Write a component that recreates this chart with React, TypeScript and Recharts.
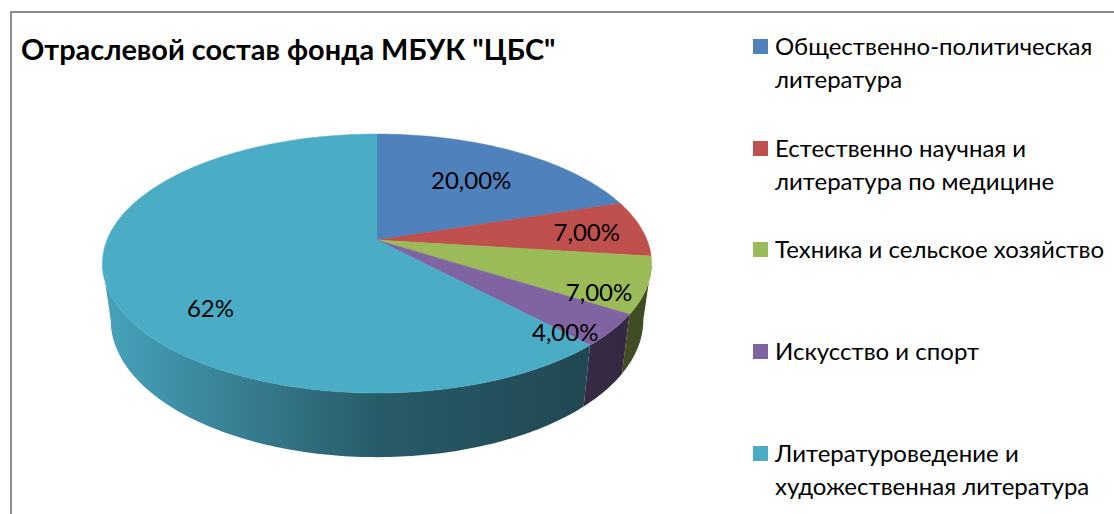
import { Legend, Pie, PieChart } from "recharts"

const categories = [
  "Общественно-политическая\nлитература",
  "Естественно научная и\nлитература по медицине",
  "Техника и сельское хозяйство",
  "Искусство и спорт",
  "Литературоведение и\nхудожественная литература",
]
const shares = [20, 7, 7, 4, 62]
const shareLabels = ["20,00%", "7,00%", "7,00%", "4,00%", "62%"]
const colors = ["#4f81bd", "#c0504d", "#9bbb59", "#8064a2", "#4bacc6"]

const data = categories.map((name, i) => ({ name, value: shares[i], fill: colors[i] }))

const FONT = "Lato, 'Open Sans', sans-serif"

// fake 3D: perspective of the pie disc
const PERSPECTIVE = 0.1815
const TILT = 125.2 / 270
const WALL_DROP = 55
const WALL_WIDTH = 0.97
const WALL_TILT = 1.06

const labelDx = [0, 37, 50, 42, 4]
const labelDy = [0, -1, 23, 35, 36]

// angle is clockwise from 12 o'clock, rho is the fraction of the radius
function project(r: number, deg: number, rho = 1) {
  const t = (deg * Math.PI) / 180
  const z = Math.cos(t) * rho
  const s = 1 / (1 + PERSPECTIVE * z)
  return { x: r * Math.sin(t) * rho * s, y: -r * TILT * z * s }
}

function topPoint(cx: number, cy: number, r: number, deg: number, rho = 1) {
  const p = project(r, deg, rho)
  return [cx + p.x, cy + p.y]
}

function bottomPoint(cx: number, cy: number, r: number, deg: number) {
  const p = project(r, deg)
  return [cx + p.x * WALL_WIDTH, cy + WALL_DROP + p.y * WALL_TILT]
}

function degrees(from: number, to: number) {
  const out: number[] = []
  for (let d = from; d < to; d += 1) out.push(d)
  out.push(to)
  return out
}

function shade(hex: string, f: number) {
  const n = parseInt(hex.slice(1), 16)
  const c = [(n >> 16) & 255, (n >> 8) & 255, n & 255].map((v) => Math.round(v * f))
  return `rgb(${c[0]},${c[1]},${c[2]})`
}

function Slice3D(props: any) {
  const { cx, cy, outerRadius, startAngle, endAngle, fill, index } = props
  const a = 90 - startAngle
  const b = 90 - endAngle
  const top = degrees(a, b).map((d) => topPoint(cx, cy, outerRadius, d))
  const face = `M${cx},${cy}L` + top.map((p) => p.join(",")).join("L") + "Z"

  // only the front of the rim shows, between the two silhouette tangents
  const wa = Math.max(a, 100.5)
  const wb = Math.min(b, 259.5)
  let wall = null
  if (wb > wa) {
    const upper = degrees(wa, wb).map((d) => topPoint(cx, cy, outerRadius, d))
    const lower = degrees(wa, wb).reverse().map((d) => bottomPoint(cx, cy, outerRadius, d))
    const id = `wall-${index}`
    wall = (
      <g>
        <defs>
          <linearGradient id={id} gradientUnits="userSpaceOnUse" x1={cx - 275} x2={cx + 275} y1={0} y2={0}>
            <stop offset="0" stopColor={shade(fill, 0.95)} />
            <stop offset="0.5" stopColor={shade(fill, 0.53)} />
            <stop offset="0.88" stopColor={shade(fill, 0.42)} />
            <stop offset="1" stopColor={shade(fill, 0.4)} />
          </linearGradient>
        </defs>
        <path d={"M" + upper.concat(lower).map((p) => p.join(",")).join("L") + "Z"} fill={`url(#${id})`} />
      </g>
    )
  }

  return (
    <g>
      {wall}
      <path d={face} fill={fill} stroke={fill} strokeWidth={0.5} />
    </g>
  )
}

function renderShareLabel(props: any) {
  const { cx, cy, outerRadius, midAngle, index } = props
  const [x, y] = topPoint(cx, cy, outerRadius, 90 - midAngle, 0.65)
  return (
    <text
      x={x + labelDx[index]}
      y={y + labelDy[index]}
      textAnchor="middle"
      dominantBaseline="central"
      fontFamily={FONT}
      fontSize={24}
      fill="#000"
    >
      {shareLabels[index]}
    </text>
  )
}

function LegendList({ payload }: any) {
  return (
    <div style={{ fontFamily: FONT, fontSize: 24, lineHeight: "33px", color: "#000" }}>
      {(payload || []).map((item: any) => (
        <div key={item.value} style={{ height: 101.7, display: "flex", alignItems: "flex-start" }}>
          <span style={{ width: 15, height: 15, marginTop: 10, marginRight: 7, background: item.color, flex: "none" }} />
          <span style={{ whiteSpace: "pre-line" }}>{item.value}</span>
        </div>
      ))}
    </div>
  )
}

export default function App() {
  return (
    <div style={{ position: "fixed", left: 0, top: 0, width: 1114, height: 514, overflow: "hidden", background: "#fff" }}>
      <PieChart width={1114} height={514} margin={{ top: 0, right: 0, bottom: 0, left: 0 }}>
        <rect x={11} y={12} width={1200} height={600} fill="none" stroke="#8c8c8c" strokeWidth={2} />
        <text x={21} y={60} fontFamily={FONT} fontSize={28.9} fontWeight={700} fill="#000">
          Отраслевой состав фонда МБУК "ЦБС"
        </text>
        <Pie
          data={data}
          dataKey="value"
          nameKey="name"
          cx={377}
          cy={240}
          outerRadius={270}
          startAngle={90}
          endAngle={-270}
          stroke="none"
          shape={Slice3D}
          activeShape={Slice3D}
          inactiveShape={Slice3D}
          label={renderShareLabel}
          labelLine={false}
          isAnimationActive={false}
        />
        <Legend
          layout="vertical"
          content={<LegendList />}
          itemSorter={null}
          wrapperStyle={{ left: 753, top: 29, right: "auto", bottom: "auto", width: 361 }}
        />
      </PieChart>
    </div>
  )
}
